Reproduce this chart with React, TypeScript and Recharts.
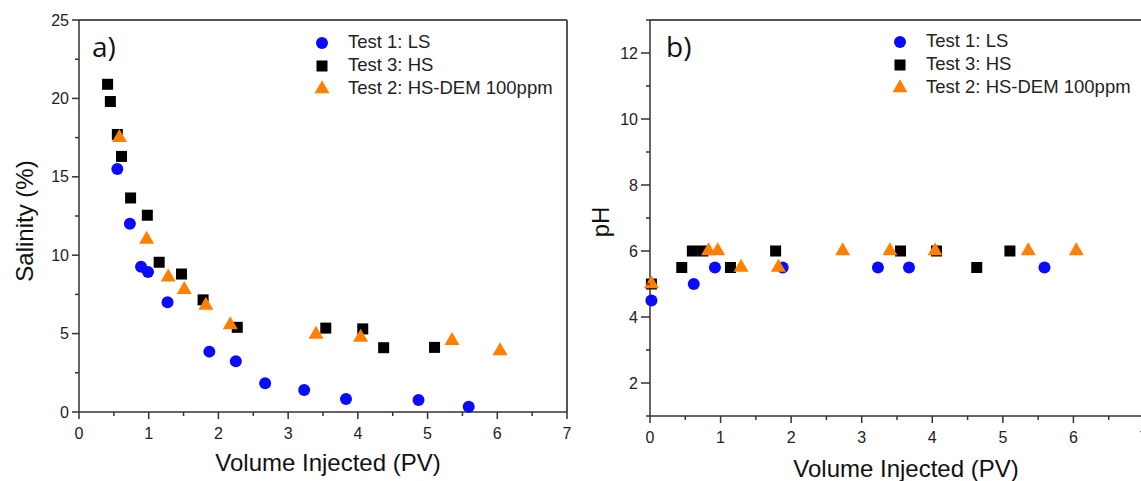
import { Legend, ReferenceLine, Scatter, ScatterChart, XAxis, YAxis } from "recharts";

const tickFont = "'Liberation Sans', Arial, sans-serif";
const axisColor = "#333";
const frameColor = "#555";
const blue = "#0a0aff";
const orange = "#ff8000";

// a) salinity vs volume injected
const lsPv = [0.55, 0.73, 0.89, 0.99, 1.27, 1.87, 2.25, 2.67, 3.23, 3.83, 4.87, 5.59];
const lsSalinity = [15.5, 12.0, 9.27, 8.93, 7.0, 3.85, 3.23, 1.83, 1.4, 0.83, 0.77, 0.34];
const hsPv = [0.41, 0.45, 0.55, 0.61, 0.74, 0.98, 1.15, 1.47, 1.78, 2.27, 3.54, 4.07, 4.37, 5.1];
const hsSalinity = [20.9, 19.8, 17.7, 16.3, 13.65, 12.55, 9.55, 8.8, 7.15, 5.4, 5.35, 5.3, 4.1, 4.12];
const demPv = [0.58, 0.97, 1.28, 1.51, 1.82, 2.17, 3.4, 4.04, 5.35, 6.04];
const demSalinity = [17.5, 11.0, 8.6, 7.8, 6.8, 5.55, 4.95, 4.75, 4.55, 3.9];

// b) pH vs volume injected
const lsPhPv = [0.02, 0.62, 0.92, 1.88, 3.23, 3.67, 5.59];
const lsPh = [4.5, 5, 5.5, 5.5, 5.5, 5.5, 5.5];
const hsPhPv = [0.02, 0.45, 0.6, 0.75, 1.14, 1.78, 3.55, 4.06, 4.63, 5.1];
const hsPh = [5, 5.5, 6, 6, 5.5, 6, 6, 6, 5.5, 6];
const demPhPv = [0.02, 0.83, 0.96, 1.29, 1.82, 2.73, 3.4, 4.04, 5.36, 6.04];
const demPh = [5, 6, 6, 5.5, 5.5, 6, 6, 6, 6, 6];

const xTicks = [0, 0.5, 1, 1.5, 2, 2.5, 3, 3.5, 4, 4.5, 5, 5.5, 6, 6.5, 7];
const xMajor = [0, 1, 2, 3, 4, 5, 6, 7];
const salTicks = [0, 2.5, 5, 7.5, 10, 12.5, 15, 17.5, 20, 22.5, 25];
const salMajor = [0, 5, 10, 15, 20, 25];
const phTicks = [1, 2, 3, 4, 5, 6, 7, 8, 9, 10, 11, 12, 13];
const phMajor = [2, 4, 6, 8, 10, 12];

const seriesNames = ["Test 1: LS", "Test 3: HS", "Test 2: HS-DEM 100ppm"];

const zip = (xs: number[], ys: number[]) => xs.map((x, i) => ({ x, y: ys[i] }));

function Marker({ type, cx, cy, color }: { type: string; cx: number; cy: number; color: string }) {
  if (type === "square") return <rect x={cx - 5.5} y={cy - 5.5} width={11} height={11} fill={color} />;
  if (type === "triangle") {
    const s = 15;
    const h = (s * Math.sqrt(3)) / 2;
    return <polygon points={`${cx},${cy - (2 * h) / 3} ${cx - s / 2},${cy + h / 3} ${cx + s / 2},${cy + h / 3}`} fill={color} />;
  }
  return <circle cx={cx} cy={cy} r={6} fill={color} />;
}

const shapeOf = (type: string, color: string) => (p: any) => <Marker type={type} cx={p.cx} cy={p.cy} color={color} />;

function yTick(majors: number[], size: number, margin: number) {
  return (props: any) => {
    const { x, y, payload } = props;
    const major = majors.includes(payload.value);
    const right = x + size + margin;
    return (
      <g>
        <line x1={right - (major ? size : 4)} x2={right} y1={y} y2={y} stroke={axisColor} strokeWidth={1.5} />
        {major && (
          <text x={right - size - 3} y={y + 5.5} textAnchor="end" fontFamily={tickFont} fontSize={16} fill="#222">
            {payload.value}
          </text>
        )}
      </g>
    );
  };
}

function xTick(majors: number[], size: number, margin: number) {
  return (props: any) => {
    const { x, y, payload } = props;
    const major = majors.includes(payload.value);
    const top = y - size - margin;
    return (
      <g>
        <line x1={x} x2={x} y1={top} y2={top + (major ? size : 4)} stroke={axisColor} strokeWidth={1.5} />
        {major && (
          <text x={x} y={top + 27} textAnchor="middle" fontFamily={tickFont} fontSize={16} fill="#222">
            {payload.value}
          </text>
        )}
      </g>
    );
  };
}

const legendContent = () => (
  <div style={{ fontFamily: tickFont, fontSize: 18.5, color: "#222" }}>
    {seriesNames.map((name, i) => (
      <div key={name} style={{ display: "flex", alignItems: "center", height: 22.8 }}>
        <svg width={16} height={16}>
          <Marker type={["circle", "square", "triangle"][i]} cx={8} cy={9} color={[blue, "#000", orange][i]} />
        </svg>
        <span style={{ marginLeft: 18, whiteSpace: "nowrap" }}>{name}</span>
      </div>
    ))}
  </div>
);

const xTitle = (cx: number, baseline: number) => () => (
  <text x={cx} y={baseline} textAnchor="middle" fontFamily={tickFont} fontSize={24} fill="#111">
    Volume Injected (PV)
  </text>
);

const yTitle = (text: string, bx: number, cy: number) => () => (
  <text x={bx} y={cy} transform={`rotate(-90 ${bx} ${cy})`} textAnchor="middle" fontFamily={tickFont} fontSize={24} fill="#111">
    {text}
  </text>
);

function SalinityChart() {
  return (
    <ScatterChart width={600} height={481} margin={{ top: 20, right: 33, bottom: 0, left: 0 }}>
      <XAxis type="number" dataKey="x" domain={[0, 7]} ticks={xTicks} interval={0} height={69} tickSize={7} tickMargin={4} tickLine={false} tick={xTick(xMajor, 7, 4)} stroke={axisColor} strokeWidth={1.5} label={{ content: xTitle(328, 471) }} />
      <YAxis type="number" dataKey="y" domain={[0, 25]} ticks={salTicks} interval={0} width={79} tickSize={7} tickMargin={4} tickLine={false} tick={yTick(salMajor, 7, 4)} stroke={axisColor} strokeWidth={1.5} label={{ content: yTitle("Salinity (%)", 33, 221) }} />
      <ReferenceLine y={25} stroke={frameColor} strokeWidth={2} />
      <ReferenceLine x={7} stroke={frameColor} strokeWidth={2} />
      <Legend layout="vertical" align="center" verticalAlign="middle" wrapperStyle={{ left: 314, top: 31, width: "auto" }} content={legendContent} />
      <Scatter name={seriesNames[0]} data={zip(lsPv, lsSalinity)} fill={blue} shape={shapeOf("circle", blue)} isAnimationActive={false} />
      <Scatter name={seriesNames[1]} data={zip(hsPv, hsSalinity)} fill="#000" shape={shapeOf("square", "#000")} isAnimationActive={false} />
      <Scatter name={seriesNames[2]} data={zip(demPv, demSalinity)} fill={orange} shape={shapeOf("triangle", orange)} isAnimationActive={false} />
    </ScatterChart>
  );
}

function PhChart() {
  return (
    <ScatterChart width={600} height={481} margin={{ top: 20, right: 27, bottom: 0, left: 0 }}>
      <XAxis type="number" dataKey="x" domain={[0, 7]} ticks={xTicks} interval={0} height={65} tickSize={7} tickMargin={4} tickLine={false} tick={xTick(xMajor, 7, 4)} stroke={axisColor} strokeWidth={1.5} label={{ content: xTitle(335, 477) }} />
      <YAxis type="number" dataKey="y" domain={[1, 13]} ticks={phTicks} interval={0} width={79} tickSize={9} tickMargin={4} tickLine={false} tick={yTick(phMajor, 9, 4)} stroke={axisColor} strokeWidth={1.5} label={{ content: yTitle("pH", 38, 222) }} />
      <ReferenceLine y={13} stroke={frameColor} strokeWidth={2} />
      <ReferenceLine x={7} stroke={frameColor} strokeWidth={2} />
      <Legend layout="vertical" align="center" verticalAlign="middle" wrapperStyle={{ left: 321, top: 30, width: "auto" }} content={legendContent} />
      <Scatter name={seriesNames[0]} data={zip(lsPhPv, lsPh)} fill={blue} shape={shapeOf("circle", blue)} isAnimationActive={false} />
      <Scatter name={seriesNames[1]} data={zip(hsPhPv, hsPh)} fill="#000" shape={shapeOf("square", "#000")} isAnimationActive={false} />
      <Scatter name={seriesNames[2]} data={zip(demPhPv, demPh)} fill={orange} shape={shapeOf("triangle", orange)} isAnimationActive={false} />
    </ScatterChart>
  );
}

const panelLabel = { position: "absolute" as const, fontFamily: "'Open Sans', sans-serif", fontSize: 28, lineHeight: 1, color: "#111" };

export default function App() {
  return (
    <div style={{ position: "absolute", left: 0, top: 0, width: 1141, height: 481, overflow: "hidden", background: "#fff" }}>
      <div style={{ position: "absolute", left: 0, top: 0 }}>
        <SalinityChart />
      </div>
      <div style={{ position: "absolute", left: 571, top: 0 }}>
        <PhChart />
      </div>
      <div style={{ ...panelLabel, left: 92, top: 32 }}>a)</div>
      <div style={{ ...panelLabel, left: 666, top: 32 }}>b)</div>
    </div>
  );
}
